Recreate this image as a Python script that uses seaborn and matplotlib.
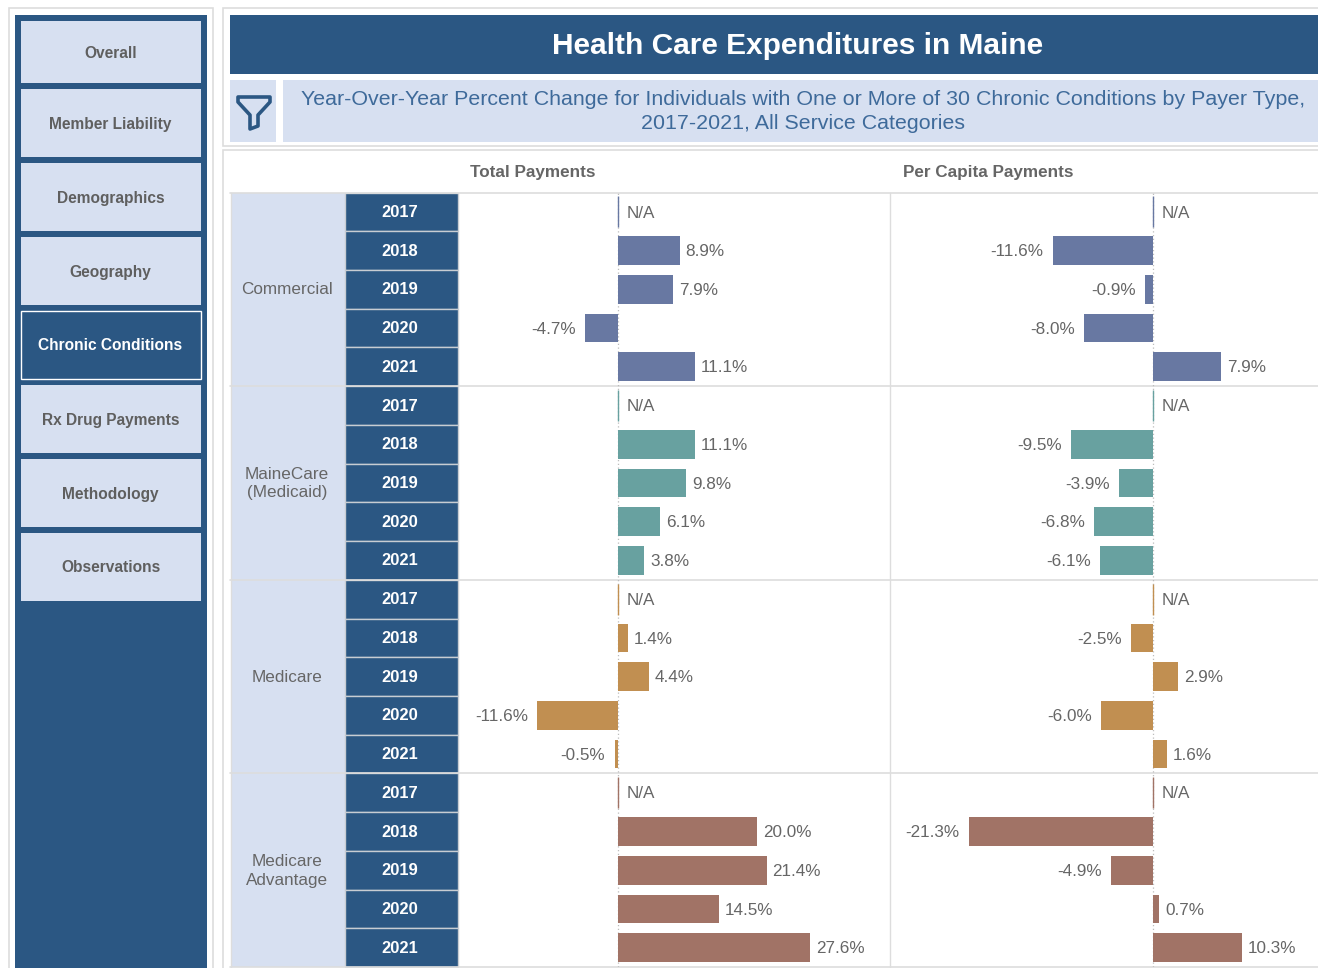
import numpy as np
import pandas as pd
import seaborn as sns
from matplotlib import pyplot as plt
from matplotlib.patches import Rectangle, Polygon

W, H = 1318, 968
DARK = "#2B5783"
LIGHT = "#D7E0F1"
GRID = "#DDDDDD"
TEXT = "#666666"

payers = ["Commercial", "MaineCare", "Medicare", "Medicare Advantage"]
payer_labels = ["Commercial", "MaineCare\n(Medicaid)", "Medicare", "Medicare\nAdvantage"]
payer_colors = ["#6878A2", "#68A1A0", "#C18F51", "#A17366"]
years = [2017, 2018, 2019, 2020, 2021]

total_commercial = [np.nan, 8.9, 7.9, -4.7, 11.1]
total_mainecare = [np.nan, 11.1, 9.8, 6.1, 3.8]
total_medicare = [np.nan, 1.4, 4.4, -11.6, -0.5]
total_advantage = [np.nan, 20.0, 21.4, 14.5, 27.6]

capita_commercial = [np.nan, -11.6, -0.9, -8.0, 7.9]
capita_mainecare = [np.nan, -9.5, -3.9, -6.8, -6.1]
capita_medicare = [np.nan, -2.5, 2.9, -6.0, 1.6]
capita_advantage = [np.nan, -21.3, -4.9, 0.7, 10.3]

menu_items = ["Overall", "Member Liability", "Demographics", "Geography",
              "Chronic Conditions", "Rx Drug Payments", "Methodology", "Observations"]
menu_spans = [(21, 83), (89, 157), (163, 231), (237, 305),
              (311, 379), (385, 453), (459, 527), (533, 601)]
ACTIVE_ITEM = "Chronic Conditions"

TOP, ROW = 192.5, 38.73
BAND_H = 5 * ROW

sns.set_theme(style="white")
plt.rcParams["font.family"] = ["Liberation Sans", "DejaVu Sans"]

df = pd.DataFrame({
    "payer": np.repeat(payers, len(years)),
    "year": years * len(payers),
    "total": total_commercial + total_mainecare + total_medicare + total_advantage,
    "capita": capita_commercial + capita_mainecare + capita_medicare + capita_advantage,
})
df["row"] = df["payer"] + " " + df["year"].astype(str)

fig = plt.figure(figsize=(W / 100, H / 100), dpi=100)

# pixel canvas for the dashboard furniture
bg = fig.add_axes([0, 0, 1, 1])
bg.set_xlim(0, W)
bg.set_ylim(H, 0)
bg.axis("off")


def box(x0, y0, x1, y1, fc, ec="none", lw=0, z=1):
    bg.add_patch(Rectangle((x0, y0), x1 - x0, y1 - y0, fc=fc, ec=ec, lw=lw, zorder=z))


# outer frames
box(9, 8, 213, 975, "white", GRID, 1.2)
box(223, 8, 1330, 146, "white", GRID, 1.2)
box(223, 150, 1330, 975, "white", GRID, 1.2)

# sidebar
box(15, 15, 207, 975, DARK)
for item, (y0, y1) in zip(menu_items, menu_spans):
    active = item == ACTIVE_ITEM
    box(21, y0, 201, y1, DARK if active else LIGHT, "white" if active else "none", 1 if active else 0, 2)
    bg.text(110.5, (y0 + y1) / 2 + 1, item, ha="center", va="center", fontsize=11.2, fontweight="bold",
            color="white" if active else "#5F5F5F", zorder=3)

# title block
box(230, 15, 1330, 74, DARK)
bg.text(797.5, 46.5, "Health Care Expenditures in Maine", ha="center", va="center", fontsize=21.5,
        fontweight="bold", color="white")
box(230, 80, 276, 142, LIGHT)
box(283, 80, 1330, 142, LIGHT)
bg.add_patch(Polygon([(238, 97), (270, 97), (270, 102), (258, 115), (258, 126), (250, 129), (250, 115), (238, 102)],
                     closed=True, fc="none", ec=DARK, lw=2.6, joinstyle="round", zorder=3))
bg.text(803, 111.5, "Year-Over-Year Percent Change for Individuals with One or More of 30 Chronic Conditions by Payer Type,\n"
        "2017-2021, All Service Categories", ha="center", va="center", fontsize=15.4, color="#3E6A9A",
        linespacing=1.34)

# table headers
bg.text(533, 172, "Total Payments", ha="center", va="center", fontsize=12.3, fontweight="bold", color=TEXT)
bg.text(988, 172, "Per Capita Payments", ha="center", va="center", fontsize=12.3, fontweight="bold", color=TEXT)

# payer and year cells
for i, label in enumerate(payer_labels):
    y0 = TOP + i * BAND_H
    box(231, y0, 345, y0 + BAND_H, LIGHT)
    bg.text(287, y0 + BAND_H / 2 + 0.5, label, ha="center", va="center", fontsize=12.3, color=TEXT, linespacing=1.3,
            zorder=3)
    for j, year in enumerate(years):
        yr0 = y0 + j * ROW
        box(344.5, yr0, 457.5, yr0 + ROW, DARK, "#C8CDD3", 1, 2)
        bg.text(400, yr0 + ROW / 2 + 0.5, str(year), ha="center", va="center", fontsize=11.9,
                fontweight="bold", color="white", zorder=3)

# rules
bg.plot([230, W], [193, 193], color=GRID, lw=1.2, zorder=4)
for i in range(1, 5):
    bg.plot([230, W], [TOP + i * BAND_H] * 2, color=GRID, lw=1.2, zorder=4)
bg.plot([890, 890], [193, H], color=GRID, lw=1.0, zorder=4)
bg.plot([230.5, 230.5], [193, H], color=GRID, lw=1.0, zorder=4)


def draw_panel(column, x0, x1, zero_px, px_per_pct):
    rect = [x0 / W, 1 - (TOP + 20 * ROW) / H, (x1 - x0) / W, 20 * ROW / H]
    ax = fig.add_axes(rect)
    ax.patch.set_alpha(0)
    sns.barplot(data=df, y="row", x=column, hue="payer", hue_order=payers, palette=payer_colors,
                dodge=False, width=0.74, errorbar=None, legend=False, orient="h", saturation=1,
                linewidth=0, ax=ax)
    ax.set_xlim((x0 - zero_px) / px_per_pct, (x1 - zero_px) / px_per_pct)
    ax.set_ylim(19.5, -0.5)
    ax.axis("off")
    ax.axvline(0, color="#BDBDBD", lw=0.9, ls=(0, (1, 2)), zorder=0)

    for i, row in enumerate(df.itertuples()):
        value = getattr(row, column)
        if np.isnan(value):
            # N/A rows are just a sliver on the axis
            ax.vlines(0, i - 0.4, i + 0.4, color=payer_colors[payers.index(row.payer)], lw=1.0)
            text, dx, ha = "N/A", 6.2, "left"
        elif value < 0:
            text, dx, ha = f"{value:.1f}%", -6.6, "right"
        else:
            text, dx, ha = f"{value:.1f}%", 4.2, "left"
        end = 0 if np.isnan(value) else value
        ax.annotate(text, (end, i + 0.03), xytext=(dx, 0), textcoords="offset points", ha=ha, va="center",
                    fontsize=12.3, color=TEXT, clip_on=False)


draw_panel("total", 458, 890, 618, 6.95)
draw_panel("capita", 890, W, 1153, 8.65)

fig.savefig("out.png", dpi=100)
